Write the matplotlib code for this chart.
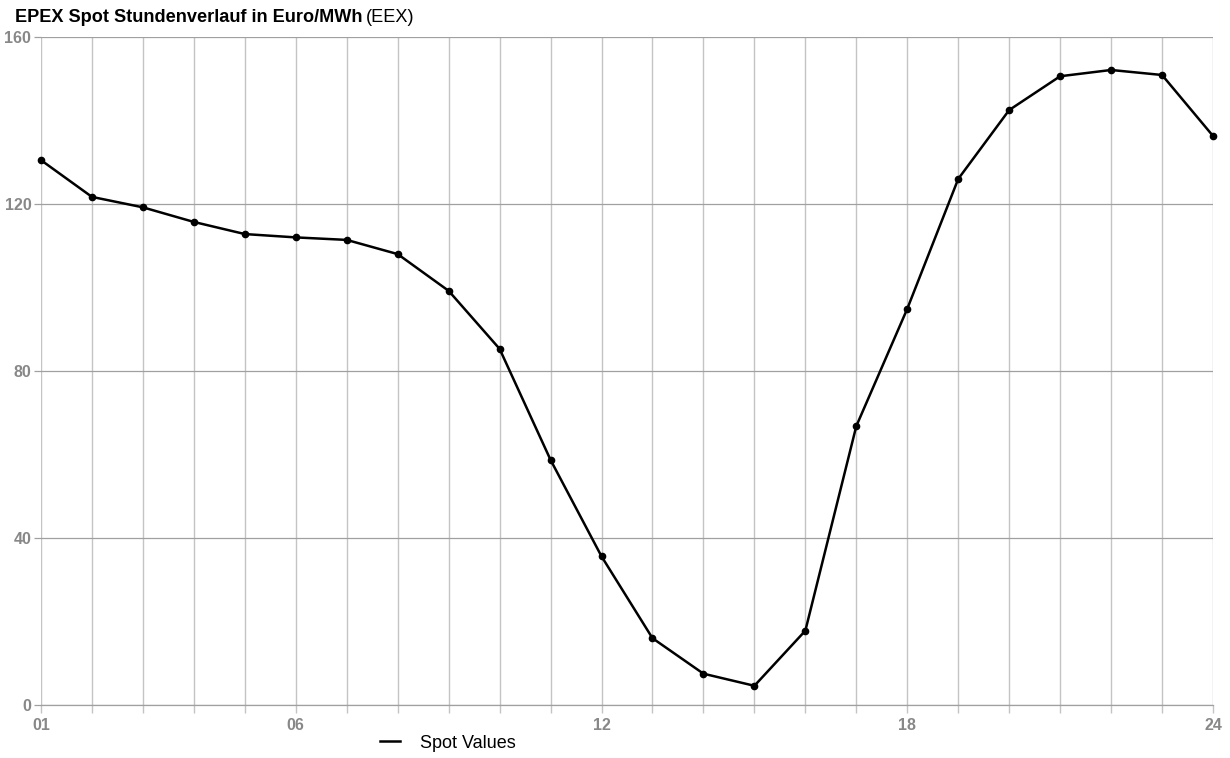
import matplotlib
matplotlib.use("Agg")
import matplotlib.pyplot as plt
from matplotlib.lines import Line2D

plt.rcParams['font.family'] = ['Liberation Sans', 'DejaVu Sans']

# Hourly EPEX spot prices (Euro/MWh)
hours = list(range(1, 25))
spot_values = [130.5, 121.7, 119.2, 115.7, 112.8, 112.0, 111.4, 108.0, 99.2, 85.3,
               58.7, 35.6, 16.0, 7.5, 4.6, 17.8, 66.8, 94.9, 126.0, 142.5,
               150.6, 152.1, 150.9, 136.3]
x_ticks = [1, 6, 12, 18, 24]
x_tick_labels = ["01", "06", "12", "18", "24"]
y_ticks = [0, 40, 80, 120, 160]

fig = plt.figure(figsize=(12.3, 7.58), dpi=100)
ax = fig.add_axes([41 / 1230, 1 - 705 / 758, (1213 - 41) / 1230, (705 - 37) / 758])

ax.plot(hours, spot_values, color="black", linewidth=1.8, marker="o",
        markersize=4.5, zorder=3, clip_on=False)

ax.set_xlim(1, 24)
ax.set_ylim(0, 160)

# grid: every hour vertically, every 40 horizontally
ax.set_xticks(hours, minor=True)
ax.set_xticks(x_ticks)
ax.set_xticklabels(x_tick_labels)
ax.set_yticks(y_ticks)
ax.grid(axis="x", which="both", color="#c4c4c4", linewidth=1.0)
ax.grid(axis="y", which="major", color="#a0a0a0", linewidth=0.9)

for s in ["top", "right", "left"]:
    ax.spines[s].set_visible(False)
ax.spines["bottom"].set_color("#a0a0a0")
ax.spines["bottom"].set_linewidth(0.9)

ax.tick_params(axis="x", which="both", length=6, color="#c4c4c4", width=1.0,
               labelcolor="#888888", labelsize=11.5, pad=3)
ax.tick_params(axis="y", length=5, color="#a0a0a0", width=0.9,
               labelcolor="#888888", labelsize=11.5, pad=2)
for lbl in ax.get_xticklabels() + ax.get_yticklabels():
    lbl.set_fontweight("bold")

# title: bold part + regular part
t1 = fig.text(15 / 1230, 1 - 17 / 758, "EPEX Spot Stundenverlauf in Euro/MWh",
              fontsize=13.1, fontweight="bold", va="center", ha="left")
fig.canvas.draw()
bb = t1.get_window_extent()
fig.text(bb.x1 / 1230 + 0.003, 1 - 17 / 758, "(EEX)", fontsize=13.1,
         va="center", ha="left")

handle = Line2D([], [], color="black", linewidth=1.8)
fig.legend([handle], ["Spot Values"], loc="center left",
           bbox_to_anchor=(364 / 1230, 1 - 743 / 758), frameon=False,
           fontsize=13, handlelength=1.1, handletextpad=1.1)

fig.savefig("out.png", dpi=100)
